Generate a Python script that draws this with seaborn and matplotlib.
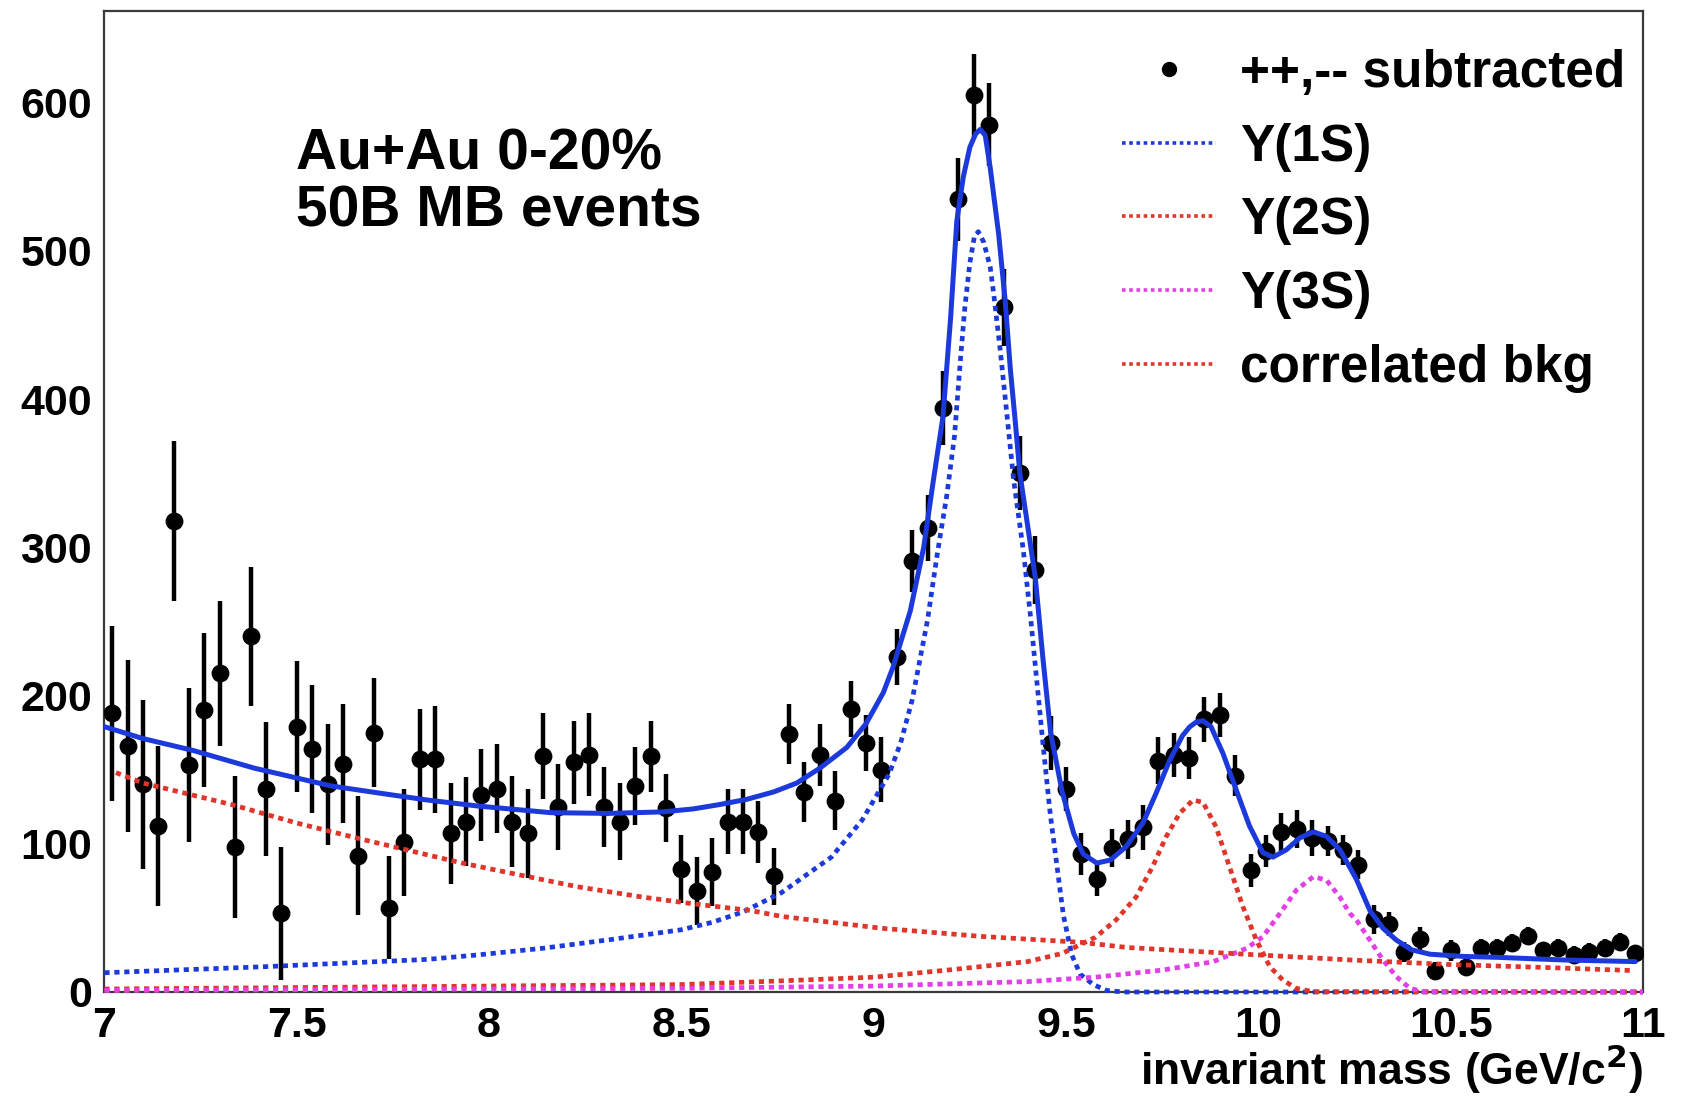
import numpy as np
import pandas as pd
import matplotlib
matplotlib.use("Agg")
import matplotlib.pyplot as plt
import seaborn as sns
from matplotlib.lines import Line2D
from matplotlib.ticker import MultipleLocator, FuncFormatter

# ---- histogram: like-sign subtracted dielectron yield, 0.04 GeV bins ----
bin_centers = np.round(7.02 + 0.04 * np.arange(100), 2)
counts = [188, 166, 140, 112, 318, 153, 190, 215, 98, 240,
          137, 53, 179, 164, 140, 154, 92, 175, 57, 101,
          157, 157, 107, 115, 133, 137, 115, 107, 159, 125,
          155, 160, 125, 115, 139, 159, 124, 83, 68, 81,
          115, 115, 108, 78, 174, 135, 160, 129, 191, 168,
          150, 226, 291, 313, 394, 535, 605, 585, 462, 350,
          285, 168, 137, 93, 76, 97, 103, 111, 156, 160,
          158, 184, 187, 146, 82, 95, 108, 110, 104, 102,
          96, 86, 49, 46, 27, 36, 14, 28, 17, 30,
          30, 33, 38, 28, 30, 25, 27, 30, 34, 26]
errors = [59, 58, 57, 54, 54, 52, 52, 49, 48, 47,
          45, 45, 44, 43, 41, 40, 40, 37, 35, 36,
          34, 36, 34, 30, 31, 30, 31, 30, 29, 29,
          28, 28, 27, 26, 26, 24, 23, 23, 23, 23,
          22, 22, 21, 19, 20, 20, 21, 20, 19, 19,
          22, 19, 21, 22, 25, 28, 28, 28, 26, 25,
          23, 18, 15, 14, 11, 13, 13, 15, 16, 15,
          14, 15, 15, 14, 11, 11, 13, 13, 12, 10,
          10, 10, 10, 8, 7, 8, 6, 7, 6, 6,
          6, 6, 6, 6, 6, 6, 6, 6, 6, 6]

# ---- fit result: total and components ----
fit_mass = [7.00, 7.10, 7.23, 7.39, 7.59, 7.72, 7.84, 7.97, 8.16, 8.31,
            8.45, 8.53, 8.60, 8.67, 8.74, 8.80, 8.86, 8.93, 8.98, 9.025,
            9.05, 9.095, 9.13, 9.155, 9.18, 9.20, 9.216, 9.233, 9.25, 9.265,
            9.277, 9.29, 9.303, 9.325, 9.342, 9.355, 9.368, 9.38, 9.40, 9.42,
            9.44, 9.46, 9.49, 9.52, 9.545, 9.58, 9.615, 9.656, 9.70, 9.734,
            9.769, 9.803, 9.822, 9.838, 9.856, 9.877, 9.908, 9.943, 9.977, 10.012,
            10.038, 10.073, 10.108, 10.143, 10.177, 10.212, 10.238, 10.255, 10.29, 10.324,
            10.359, 10.398, 10.446, 10.533, 10.62, 10.794, 10.98]
fit_yield = [179, 171, 163, 151, 139, 134, 129.5, 125.5, 121, 120.5,
             121.5, 123.5, 126.5, 130, 135, 141, 151, 165, 181, 202,
             219, 257, 300, 345, 388, 455, 520, 550, 570, 579,
             582, 578, 556, 511, 466, 421, 385, 350, 315, 280,
             225, 175, 135, 107, 93, 87, 89, 98, 114, 134,
             156, 173, 179, 182, 183, 179, 161, 136, 112, 94,
             91, 96, 104, 108, 105, 96, 84, 76, 55, 43,
             35, 28.5, 25.5, 24, 23.4, 21.6, 20.5]

y1s_mass = [7.00, 7.41, 7.84, 7.97, 8.14, 8.32, 8.50, 8.58, 8.66, 8.76,
            8.89, 8.97, 9.04, 9.07, 9.10, 9.14, 9.165, 9.19, 9.21, 9.225,
            9.237, 9.25, 9.262, 9.272, 9.286, 9.303, 9.312, 9.329, 9.347, 9.364,
            9.389, 9.407, 9.424, 9.441, 9.459, 9.476, 9.493, 9.515, 9.537, 9.571,
            9.606, 9.65, 11.0]
y1s_yield = [13, 17, 22, 25, 29.5, 35.5, 42, 47, 54, 67,
             91, 116, 147, 168, 197, 251, 295, 335, 375, 425,
             462, 492, 510, 513, 506, 489, 471, 433, 388, 345,
             298, 255, 210, 165, 120, 86, 52, 25, 12, 5,
             1, 0, 0]

y2s_mass = [7.00, 7.50, 8.00, 8.50, 8.76, 9.00, 9.20, 9.40, 9.49, 9.577,
            9.63, 9.682, 9.725, 9.76, 9.795, 9.83, 9.856, 9.89, 9.925, 9.96,
            9.995, 10.03, 10.064, 10.099, 10.143, 11.0]
y2s_yield = [2, 3, 4, 5, 7.5, 10, 15, 20.5, 26, 37,
             48.6, 64, 84.5, 104.6, 120.4, 129.5, 128, 111.5, 84.5, 57.5,
             35, 17, 8, 2.4, 0.2, 0]

y3s_mass = [7.00, 7.50, 8.00, 8.50, 9.00, 9.40, 9.577, 9.751, 9.882, 9.969,
            10.012, 10.056, 10.099, 10.143, 10.177, 10.212, 10.238, 10.255, 10.29, 10.324,
            10.359, 10.394, 10.428, 11.0]
y3s_yield = [1, 1.5, 2, 2.5, 4, 7, 10, 14.8, 20.4, 29.4,
             37.3, 53, 68.8, 77.8, 75.5, 64, 53, 48.6, 35, 21.6,
             10.3, 2.5, 0.2, 0]

bkg_mass = [7.03, 7.10, 7.33, 7.50, 7.67, 7.84, 7.93, 8.06, 8.23, 8.40,
            8.53, 8.68, 8.76, 9.02, 9.28, 9.54, 9.66, 9.93, 10.24, 10.50,
            10.75, 10.97]
bkg_yield = [148, 141, 126.5, 114, 103, 92.5, 87, 80, 71, 64,
             59.5, 55, 51, 43, 37.5, 33.5, 30, 26, 21.6, 18.5,
             16.5, 14.5]

legend_labels = ["++,-- subtracted", "Y(1S)", "Y(2S)", "Y(3S)", "correlated bkg"]

# ---- style ----
sns.set_theme(style="white")
plt.rcParams["font.family"] = ["Liberation Sans", "DejaVu Sans"]
plt.rcParams["font.weight"] = "bold"
plt.rcParams["axes.labelweight"] = "bold"
plt.rcParams["text.color"] = "black"
plt.rcParams["axes.labelcolor"] = "black"

BLUE = "#1c3adc"
RED = "#e0352a"
MAGENTA = "#e23fe6"
FRAME = "#3a3a3a"
DOT = (0, (1.1, 1.0))

fig = plt.figure(figsize=(16.87, 10.96), dpi=100)
ax = fig.add_axes([0.0619, 0.0949, 0.9120, 0.8952])

hist = pd.DataFrame({"mass": bin_centers, "yield": counts, "err": errors})

# data points with statistical errors
ax.errorbar(hist["mass"], hist["yield"], yerr=hist["err"], fmt="none",
            ecolor="black", elinewidth=3.2, capsize=0, zorder=2)
sns.scatterplot(data=hist, x="mass", y="yield", ax=ax, color="black",
                s=165, linewidth=0, zorder=3, legend=False)

# fit components (drawn in order so the 3S line sits on top along zero)
components = [
    (y1s_mass, y1s_yield, BLUE),
    (y2s_mass, y2s_yield, RED),
    (y3s_mass, y3s_yield, MAGENTA),
    (bkg_mass, bkg_yield, RED),
]
for xs, ys, col in components:
    sns.lineplot(x=xs, y=ys, ax=ax, color=col, linewidth=3.4, linestyle=DOT,
                 sort=False, estimator=None, zorder=4, clip_on=False)

sns.lineplot(x=fit_mass, y=fit_yield, ax=ax, color=BLUE, linewidth=3.6,
             sort=False, estimator=None, zorder=5)

# axes, ticks
ax.set_xlim(7, 11)
ax.set_ylim(0, 662)
ax.xaxis.set_major_locator(MultipleLocator(0.5))
ax.xaxis.set_minor_locator(MultipleLocator(0.1))
ax.yaxis.set_major_locator(MultipleLocator(100))
ax.yaxis.set_minor_locator(MultipleLocator(20))
ax.xaxis.set_major_formatter(FuncFormatter(lambda v, p: f"{v:g}"))
ax.yaxis.set_major_formatter(FuncFormatter(lambda v, p: f"{v:g}"))

ax.tick_params(axis="both", which="both", direction="in", top=False, right=False,
               color=FRAME, width=1.6, labelsize=31, labelcolor="black")
ax.tick_params(axis="y", which="major", length=33, pad=9)
ax.tick_params(axis="y", which="minor", length=18)
ax.tick_params(axis="x", which="major", length=20, pad=10)
ax.tick_params(axis="x", which="minor", length=9.5)
for lab in ax.get_xticklabels() + ax.get_yticklabels():
    lab.set_fontweight("bold")

for side in ["left", "right", "top", "bottom"]:
    ax.spines[side].set_visible(True)
    ax.spines[side].set_color(FRAME)
    ax.spines[side].set_linewidth(1.6)

ax.set_ylabel("")
ax.set_xlabel("invariant mass (GeV/c$^{2}$)", fontsize=32, fontweight="bold",
              loc="right", color="black")
ax.xaxis.set_label_coords(1.0, -0.0948)
ax.xaxis.label.set_verticalalignment("baseline")

# annotation
ax.text(0.1245, 0.8378, "Au+Au 0-20%", transform=ax.transAxes, fontsize=41,
        fontweight="bold", ha="left", va="baseline", color="black")
ax.text(0.1245, 0.7797, "50B MB events", transform=ax.transAxes, fontsize=41,
        fontweight="bold", ha="left", va="baseline", color="black")

# legend
handles = [
    Line2D([], [], linestyle="none", marker="o", color="black", markersize=10),
    Line2D([], [], color=BLUE, linestyle=(0, (1, 1)), linewidth=2.6),
    Line2D([], [], color=RED, linestyle=(0, (1, 1)), linewidth=2.6),
    Line2D([], [], color=MAGENTA, linestyle=(0, (1, 1)), linewidth=2.6),
    Line2D([], [], color=RED, linestyle=(0, (1, 1)), linewidth=2.6),
]
leg = ax.legend(handles, legend_labels, loc="upper left", bbox_to_anchor=(0.6614, 0.961),
                frameon=False, prop={"size": 37, "weight": "bold"}, handlelength=1.83,
                handletextpad=0.47, labelspacing=0.48, borderpad=0, borderaxespad=0)
for t in leg.get_texts():
    t.set_color("black")

fig.savefig("out.png", dpi=100, facecolor="white")
